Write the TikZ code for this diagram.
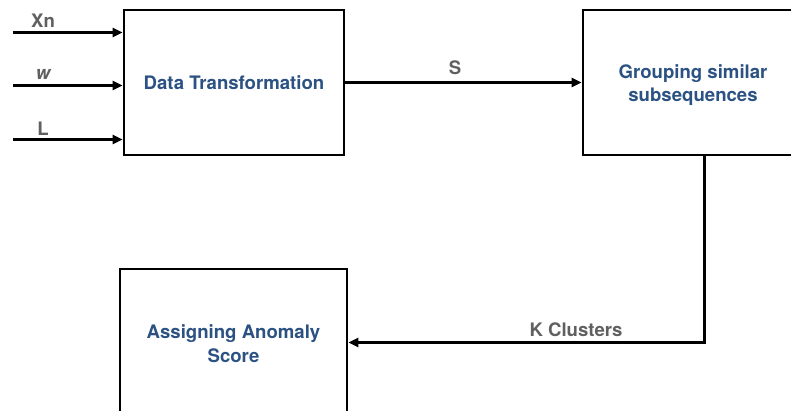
\documentclass[tikz,border=0pt]{standalone}
\usepackage{fontspec}
\setmainfont{TeX Gyre Heros}
\usetikzlibrary{arrows.meta}
\definecolor{boxtext}{HTML}{2B5283}
\definecolor{labelgrey}{HTML}{606060}
\begin{document}
\begin{tikzpicture}[x=1pt,y=-1pt,
  procbox/.style={draw=black, line width=2.8pt, fill=white, inner sep=0pt},
  boxlabel/.style={align=center, text=boxtext, font=\fontsize{18.6}{23.5}\selectfont\bfseries, inner sep=0pt},
  flow/.style={line width=2.8pt, -{Triangle[length=10pt,width=9pt]}},
  lbl/.style={text=labelgrey, font=\fontsize{18.6}{22}\selectfont\bfseries, inner sep=0pt}]
\useasboundingbox (0,0) rectangle (791,410);
\clip (0,0) rectangle (791,410);
\node[procbox, minimum width=220pt, minimum height=145pt] (dt) at (234,82.5) {};
\node[boxlabel] (dttxt) at (234,82.5) {Data Transformation};
\node[procbox, minimum width=220pt, minimum height=145pt] (grp) at (693,82.5) {};
\node[boxlabel] (grptxt) at (693,85) {Grouping similar\\subsequences};
\node[procbox, minimum width=227pt, minimum height=148pt] (asg) at (233.5,343) {};
\node[boxlabel] (asgtxt) at (233.5,343.5) {Assigning Anomaly\\Score};
% inputs
\coordinate (inx) at (13,32.5);
\coordinate (inw) at (13,85.5);
\coordinate (inl) at (13,139.5);
\draw[flow] (inx) -- (inx -| dt.west);
\draw[flow] (inw) -- (inw -| dt.west);
\draw[flow] (inl) -- (inl -| dt.west);
\node[lbl] (lx) at (43,21) {Xn};
\node[lbl] (lw) at (43,74) {\itshape w};
\node[lbl] (ll) at (43,129) {L};
% S
\draw[flow] (dt.east) -- (grp.west);
\node[lbl] (ls) at (455,68) {S};
% K clusters
\coordinate (kbend) at (704.5,342.5);
\draw[flow] (grp.south -| kbend) -- (kbend) -- (asg.east |- kbend);
\node[lbl] (lk) at (576,330) {K Clusters};
\end{tikzpicture}
\end{document}
